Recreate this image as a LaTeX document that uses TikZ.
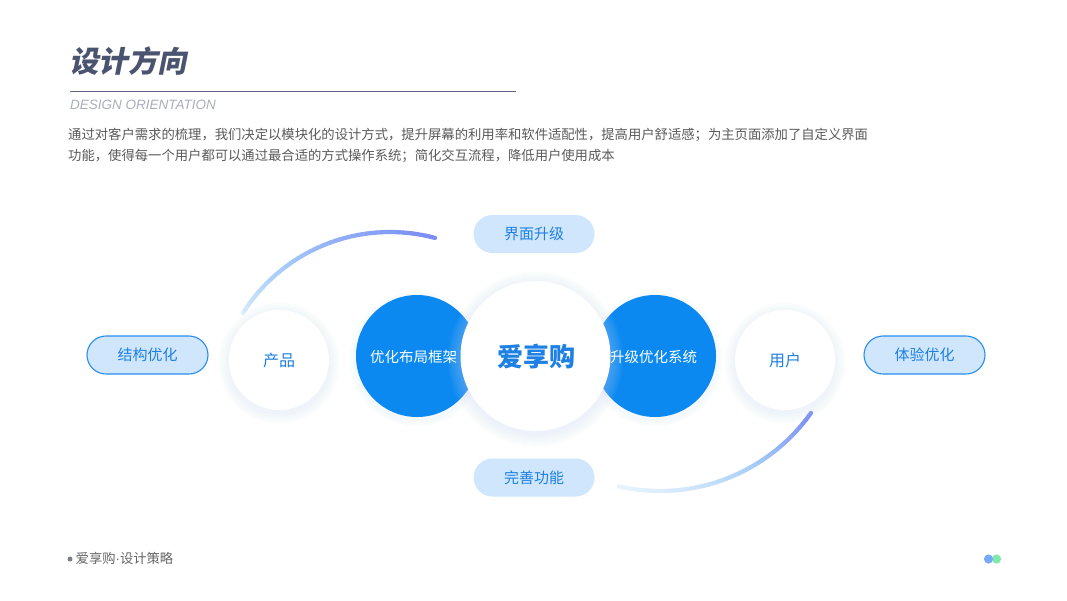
\documentclass[tikz,border=0pt]{standalone}
\usepackage{fontspec}
\setmainfont{Noto Sans CJK SC}
\newfontfamily\titlefont[FakeSlant=0.2]{Noto Sans CJK SC}
\newfontfamily\latinit{Liberation Sans}
\usetikzlibrary{calc}
\definecolor{titlec}{HTML}{4A5370}
\definecolor{rulec}{HTML}{5C6580}
\definecolor{subc}{HTML}{A9AFBA}
\definecolor{bodyc}{HTML}{5A5A5A}
\definecolor{mainblue}{HTML}{0B89F0}
\definecolor{textblue}{HTML}{1E80E2}
\definecolor{pillfill}{HTML}{CFE6FC}
\definecolor{pilldraw}{HTML}{2A8DF0}
\definecolor{shadowc}{HTML}{D2DCFA}
\definecolor{arcL}{HTML}{E6F3FE}
\definecolor{arcM}{HTML}{A6CCF8}
\definecolor{arcD}{HTML}{7B8CF3}
\definecolor{footc}{HTML}{666666}
\definecolor{bulletc}{HTML}{7A7F8C}
\definecolor{dotblue}{HTML}{78A8F8}
\definecolor{dotgreen}{HTML}{80E8AA}
\newcommand\softshadow[3]{%
  \foreach \k in {1,...,#3}{\fill[shadowc, opacity=0.028] ($(#1)+(0,3)$) circle[radius=#2+\k];}}
\tikzset{
  disc/.style={circle, inner sep=0pt, minimum size=#1},
  whitedisc/.style={disc=#1, fill=white, text=textblue, font=\fontsize{16}{18}\selectfont},
  bluedisc/.style={disc=#1, fill=mainblue},
  bluelabel/.style={text=white, inner sep=0pt, font=\fontsize{14.5}{16}\selectfont},
  pill/.style={rectangle, rounded corners=19pt, minimum width=121pt, minimum height=38pt,
    inner sep=0pt, fill=pillfill, text=textblue, font=\fontsize{15}{17}\selectfont},
  pillborder/.style={pill, draw=pilldraw, line width=1.1pt},
  arcline/.style={line width=4.2pt, line cap=round},
}
\begin{document}
\begin{tikzpicture}[x=1pt,y=-1pt]
\useasboundingbox[fill=white] (0,0) rectangle (1067,600);

% header
\node[anchor=west, inner sep=0pt, text=titlec, font=\titlefont\bfseries\fontsize{29.5}{30}\selectfont] (title) at (69,61) {设计方向};
\coordinate (ruleA) at (70,91);
\coordinate (ruleB) at (516,91);
\draw[rulec, line width=1pt] (ruleA) -- (ruleB);
\node[anchor=west, inner sep=0pt, text=subc, font=\latinit\itshape\fontsize{13.5}{15}\selectfont] (sub) at (70,105) {DESIGN ORIENTATION};
\node[anchor=north west, inner sep=0pt, align=left, text=bodyc, font=\fontsize{13.33}{21}\selectfont] (body) at (68,128)
  {通过对客户需求的梳理，我们决定以模块化的设计方式，提升屏幕的利用率和软件适配性，提高用户舒适感；为主页面添加了自定义界面\\
   功能，使得每一个用户都可以通过最合适的方式操作系统；简化交互流程，降低用户使用成本};

% gradient arcs
\coordinate (topc) at (390,406);
\coordinate (botc) at (660,306);
\foreach \i in {0,...,47}{
  \pgfmathsetmacro\aa{-147.7+72.7*\i/48}
  \pgfmathsetmacro\ab{-147.7+72.7*(\i+1)/48}
  \pgfmathtruncatemacro\pp{200*((\i+0.5)/48)^0.55}
  \ifnum\pp<100 \colorlet{segc}{arcM!\pp!arcL}\else\pgfmathtruncatemacro\qq{\pp-100}\colorlet{segc}{arcD!\qq!arcM}\fi
  \draw[arcline, segc] ($(topc)+(\aa:174)$) arc[start angle=\aa, end angle=\ab, radius=174];
}
\foreach \i in {0,...,47}{
  \pgfmathsetmacro\aa{102.8-67.5*\i/48}
  \pgfmathsetmacro\ab{102.8-67.5*(\i+1)/48}
  \pgfmathtruncatemacro\pp{200*((\i+0.5)/48)^1.6}
  \ifnum\pp<100 \colorlet{segc}{arcM!\pp!arcL}\else\pgfmathtruncatemacro\qq{\pp-100}\colorlet{segc}{arcD!\qq!arcM}\fi
  \draw[arcline, segc] ($(botc)+(\aa:185)$) arc[start angle=\aa, end angle=\ab, radius=185];
}

% blue discs
\coordinate (lc) at (417,356);
\coordinate (rc) at (655,356);
\coordinate (cc) at (535.5,356);
\coordinate (pc) at (279,360);
\coordinate (uc) at (785,360);
\softshadow{lc}{61}{7}
\softshadow{rc}{61}{7}
\node[bluedisc=122pt] (layout) at (lc) {};
\node[bluedisc=122pt] (system) at (rc) {};
% core
\softshadow{cc}{75}{13}
\node[whitedisc=150pt] (core) at (cc) {};
\softshadow{pc}{50}{11}
\softshadow{uc}{50}{11}
\node[whitedisc=100pt] (product) at (pc) {产品};
\node[whitedisc=100pt] (user) at (uc) {用户};

\node[text=textblue, font=\bfseries\fontsize{26}{28}\selectfont] (coretext) at (536,357) {爱享购};
\node[bluelabel] (layouttext) at (413.5,357) {优化布局框架};
\node[bluelabel] (systemtext) at (653.5,357) {升级优化系统};

% pills
\node[pillborder] (struct) at (147.5,355) {结构优化};
\node[pillborder] (exp) at (924.5,355) {体验优化};
\node[pill] (ui) at (534,234) {界面升级};
\node[pill] (func) at (534,477.5) {完善功能};

% footer
\coordinate (bul) at (70,559);
\fill[bulletc] (bul) circle[radius=2.5];
\node[anchor=west, inner sep=0pt, text=footc, font=\fontsize{13.3}{16}\selectfont] (foot) at (75.5,558.5) {爱享购{\latinit ·}设计策略};
\coordinate (dg) at (996.5,559);
\coordinate (db) at (988.5,559);
\fill[dotgreen] (dg) circle[radius=4.6];
\fill[dotblue] (db) circle[radius=4.6];
\end{tikzpicture}
\end{document}
